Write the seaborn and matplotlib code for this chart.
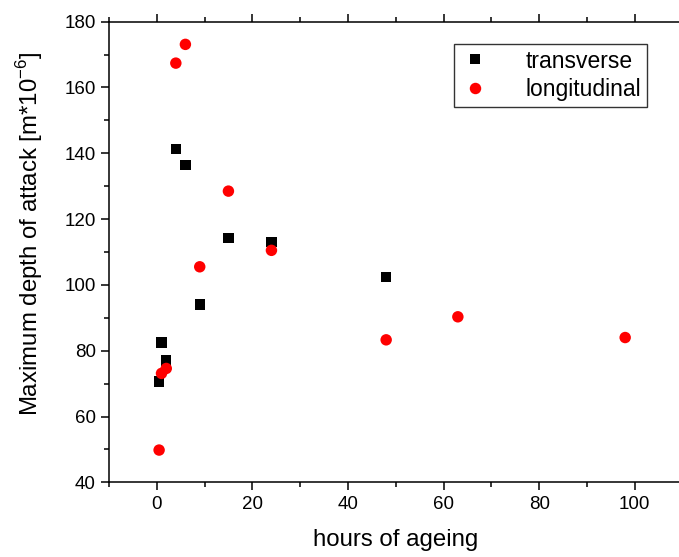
import numpy as np
import pandas as pd
import matplotlib
matplotlib.use("Agg")
import matplotlib.pyplot as plt
from matplotlib.ticker import MultipleLocator
import seaborn as sns

# hours of ageing and max depth of attack
trans_hours = [0.5, 1, 2, 4, 6, 9, 15, 24, 48]
trans_depth = [70.6, 82.5, 77.0, 141.2, 136.4, 94.0, 114.3, 113.0, 102.5]
long_hours = [0.5, 1, 2, 4, 6, 9, 15, 24, 48, 63, 98]
long_depth = [49.8, 73.1, 74.6, 167.4, 173.1, 105.5, 128.5, 110.5, 83.3, 90.3, 84.0]
series_names = ["transverse", "longitudinal"]

df = pd.concat([
    pd.DataFrame({"hours": trans_hours, "depth": trans_depth, "dir": series_names[0]}),
    pd.DataFrame({"hours": long_hours, "depth": long_depth, "dir": series_names[1]}),
])

sns.set_style("ticks")
plt.rcParams['font.family'] = ['Liberation Sans', 'DejaVu Sans']
plt.rcParams['mathtext.fontset'] = 'custom'
plt.rcParams['mathtext.rm'] = 'Liberation Sans'
plt.rcParams['text.color'] = 'black'
plt.rcParams['axes.labelcolor'] = 'black'
plt.rcParams['xtick.color'] = 'black'
plt.rcParams['ytick.color'] = 'black'
plt.rcParams['axes.edgecolor'] = 'black'

fig = plt.figure(figsize=(6.79, 5.57), dpi=100)
ax = fig.add_axes([0.1604, 0.1341, 0.8448, 0.827])

sns.scatterplot(data=df, x="hours", y="depth", hue="dir", style="dir", size="dir",
                palette={"transverse": "black", "longitudinal": "red"},
                markers={"transverse": "s", "longitudinal": "o"},
                sizes={"transverse": 55, "longitudinal": 68},
                edgecolor="none", linewidth=0, ax=ax)

ax.set_xlim(-10, 110)
ax.set_ylim(40, 180)
ax.xaxis.set_major_locator(MultipleLocator(20))
ax.xaxis.set_minor_locator(MultipleLocator(10))
ax.yaxis.set_major_locator(MultipleLocator(20))
ax.yaxis.set_minor_locator(MultipleLocator(10))
ax.tick_params(which="both", direction="out", width=1.1, top=True, labelsize=13.5)
ax.tick_params(which="major", length=6)
ax.tick_params(which="minor", length=3.5)
for sp in ax.spines.values():
    sp.set_linewidth(1.1)
ax.spines["right"].set_visible(False)

ax.set_xlabel("hours of ageing", fontsize=17.3, labelpad=12)
ax.set_ylabel(r"Maximum depth of attack [m*10$^{-6}$]", fontsize=17.3)
ax.yaxis.set_label_coords(-0.111, 0.539)

handles, labels = ax.get_legend_handles_labels()
leg = ax.legend(handles, labels, loc="upper left", bbox_to_anchor=(0.601, 0.952),
                fontsize=16.5, frameon=True, fancybox=False, edgecolor="black",
                handlelength=1.4, handletextpad=1.5, borderpad=0.25,
                labelspacing=0.25, borderaxespad=0)
leg.get_frame().set_linewidth(1.0)

fig.savefig("out.png", dpi=100)
